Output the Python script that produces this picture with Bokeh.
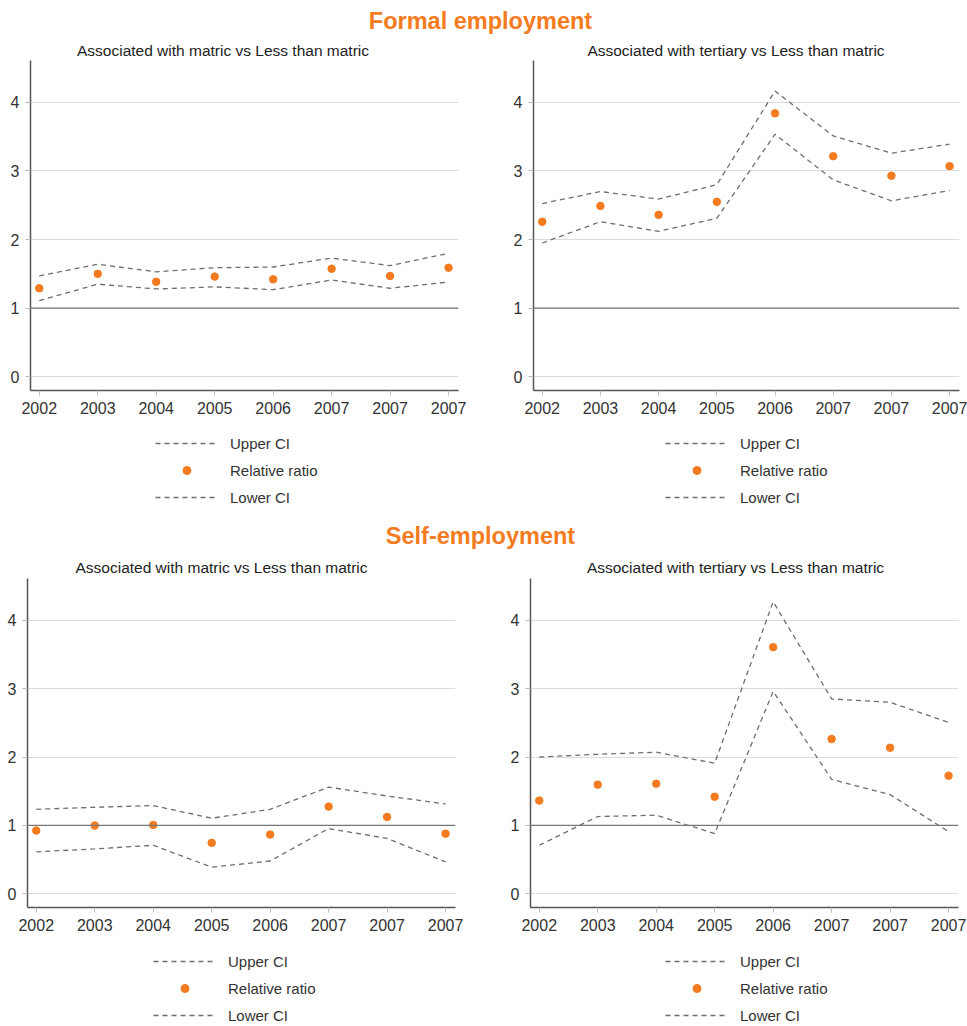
from bokeh.plotting import figure
from bokeh.models import Range1d, FixedTicker, Legend, LegendItem, Span
from bokeh.layouts import column, row
from bokeh.embed import file_html
from bokeh.resources import INLINE
from bokeh.core.properties import value

# ---------------- data ----------------
year_labels = ["2002", "2003", "2004", "2005", "2006", "2007", "2007", "2007"]
y_ticks = [0, 1, 2, 3, 4]

section_titles = ["Formal employment", "Self-employment"]
panel_titles = ["Associated with matric vs Less than matric",
                "Associated with tertiary vs Less than matric"]
legend_labels = ["Upper CI", "Relative ratio", "Lower CI"]

formal_matric_rr = [1.29, 1.50, 1.385, 1.46, 1.42, 1.575, 1.47, 1.59]
formal_matric_up = [1.47, 1.64, 1.53, 1.59, 1.60, 1.73, 1.62, 1.80]
formal_matric_lo = [1.11, 1.35, 1.28, 1.31, 1.27, 1.41, 1.29, 1.38]

formal_tert_rr = [2.26, 2.49, 2.36, 2.55, 3.84, 3.215, 2.93, 3.07]
formal_tert_up = [2.525, 2.70, 2.59, 2.80, 4.165, 3.51, 3.26, 3.39]
formal_tert_lo = [1.95, 2.26, 2.12, 2.31, 3.535, 2.87, 2.565, 2.715]

self_matric_rr = [0.925, 0.998, 1.007, 0.745, 0.866, 1.275, 1.124, 0.88]
self_matric_up = [1.236, 1.265, 1.29, 1.105, 1.236, 1.56, 1.43, 1.314]
self_matric_lo = [0.613, 0.657, 0.71, 0.39, 0.48, 0.954, 0.81, 0.467]

self_tert_rr = [1.363, 1.596, 1.61, 1.42, 3.606, 2.263, 2.136, 1.727]
self_tert_up = [2.0, 2.04, 2.07, 1.91, 4.27, 2.85, 2.80, 2.506]
self_tert_lo = [0.71, 1.13, 1.15, 0.88, 2.96, 1.674, 1.45, 0.91]

# ---------------- style ----------------
FONT = "Liberation Sans"
ORANGE = "#F47B20"
TXT = "#333333"
CI_COLOR = "#6e6e6e"
CI_DASH = "5 4"
CI_WIDTH = 1.3
DOT_SIZE = 7.5
TOTAL_W = 966
NAN = float("nan")
xs = list(range(len(year_labels)))


def make_panel(rr, up, lo, border_left, frame_w, border_right, frame_h):
    p = figure(frame_width=frame_w, frame_height=frame_h,
               x_range=Range1d(-0.15, 7.17), y_range=Range1d(-0.2, 4.61),
               output_backend="svg", toolbar_location=None,
               min_border_left=border_left, min_border_right=border_right,
               min_border_top=0, min_border_bottom=34)
    p.outline_line_color = None
    p.background_fill_color = None
    p.border_fill_color = None

    p.xaxis.ticker = FixedTicker(ticks=xs)
    p.xaxis.major_label_overrides = {i: lab for i, lab in enumerate(year_labels)}
    p.yaxis.ticker = FixedTicker(ticks=y_ticks)
    for ax in (p.xaxis, p.yaxis):
        ax.axis_line_color = "#555555"
        ax.axis_line_width = 1.5
        ax.major_tick_line_color = "#bbbbbb"
        ax.major_tick_in = 0
        ax.major_tick_out = 5
        ax.minor_tick_line_color = None
        ax.major_label_text_font = FONT
        ax.major_label_text_font_size = "16px"
        ax.major_label_text_color = TXT
    p.xaxis.major_label_standoff = 6
    p.yaxis.major_label_standoff = 6

    p.xgrid.grid_line_color = None
    p.ygrid.ticker = FixedTicker(ticks=y_ticks)
    p.ygrid.grid_line_color = "#dcdcdc"
    p.ygrid.grid_line_width = 1

    p.add_layout(Span(location=1, dimension="width", line_color="#777777",
                      line_width=1.2))

    p.line(xs, up, line_color=CI_COLOR, line_width=CI_WIDTH, line_dash=CI_DASH)
    p.line(xs, lo, line_color=CI_COLOR, line_width=CI_WIDTH, line_dash=CI_DASH)
    p.scatter(xs, rr, size=DOT_SIZE, fill_color=ORANGE, line_color=ORANGE)
    return p


def make_band(height, texts, legend_xs, legend_bottom):
    """Full-width strip holding section heading, panel titles and legends."""
    h = figure(width=TOTAL_W, height=height, x_range=Range1d(0, TOTAL_W),
               y_range=Range1d(height, 0), output_backend="svg",
               toolbar_location=None, min_border=0)
    h.axis.visible = False
    h.grid.visible = False
    h.outline_line_color = None
    h.background_fill_color = None
    h.border_fill_color = None
    for (x, y, txt, size, style, color) in texts:
        h.text(x=[x], y=[y], text=[txt], text_align="center",
               text_baseline="middle", text_font=value(FONT),
               text_font_size=size, text_font_style=style, text_color=color)
    for lx in legend_xs:
        # legend-only renderers (a single NaN point: nothing drawn in the strip)
        l_up = h.line([NAN], [NAN], line_color=CI_COLOR, line_width=CI_WIDTH, line_dash=CI_DASH)
        s_rr = h.scatter([NAN], [NAN], size=DOT_SIZE, fill_color=ORANGE, line_color=ORANGE)
        l_lo = h.line([NAN], [NAN], line_color=CI_COLOR, line_width=CI_WIDTH, line_dash=CI_DASH)
        legend = Legend(items=[LegendItem(label=legend_labels[0], renderers=[l_up]),
                               LegendItem(label=legend_labels[1], renderers=[s_rr]),
                               LegendItem(label=legend_labels[2], renderers=[l_lo])],
                        location=(lx, legend_bottom), orientation="vertical",
                        glyph_width=63, glyph_height=20, label_height=20,
                        label_standoff=12, spacing=7, padding=0, margin=0,
                        border_line_color=None, background_fill_alpha=0,
                        label_text_font=FONT, label_text_font_size="15px",
                        label_text_color=TXT)
        h.add_layout(legend, "center")
    return h


h1 = make_band(60, [
    (480, 20, section_titles[0], "23.5px", "bold", ORANGE),
    (222.5, 50, panel_titles[0], "15.5px", "normal", "#222222"),
    (735.5, 50, panel_titles[1], "15.5px", "normal", "#222222"),
], [], 0)

p1 = make_panel(formal_matric_rr, formal_matric_up, formal_matric_lo, 30, 428, 52, 330)
p2 = make_panel(formal_tert_rr, formal_tert_up, formal_tert_lo, 22, 426, 8, 330)

# band from y=424 to y=578
h2 = make_band(154, [
    (480, 535 - 424, section_titles[1], "23.5px", "bold", ORANGE),
    (221, 567 - 424, panel_titles[0], "15.5px", "normal", "#222222"),
    (735, 567 - 424, panel_titles[1], "15.5px", "normal", "#222222"),
], [155, 665], 578 - 507)

p3 = make_panel(self_matric_rr, self_matric_up, self_matric_lo, 27, 428, 52, 329)
p4 = make_panel(self_tert_rr, self_tert_up, self_tert_lo, 22, 428, 9, 329)

# band from y=941 to y=1026
h3 = make_band(85, [], [153, 665], 1)

layout = column(h1, row(p1, p2), h2, row(p3, p4), h3, spacing=0)

open("out.html", "w").write(file_html(layout, INLINE))
